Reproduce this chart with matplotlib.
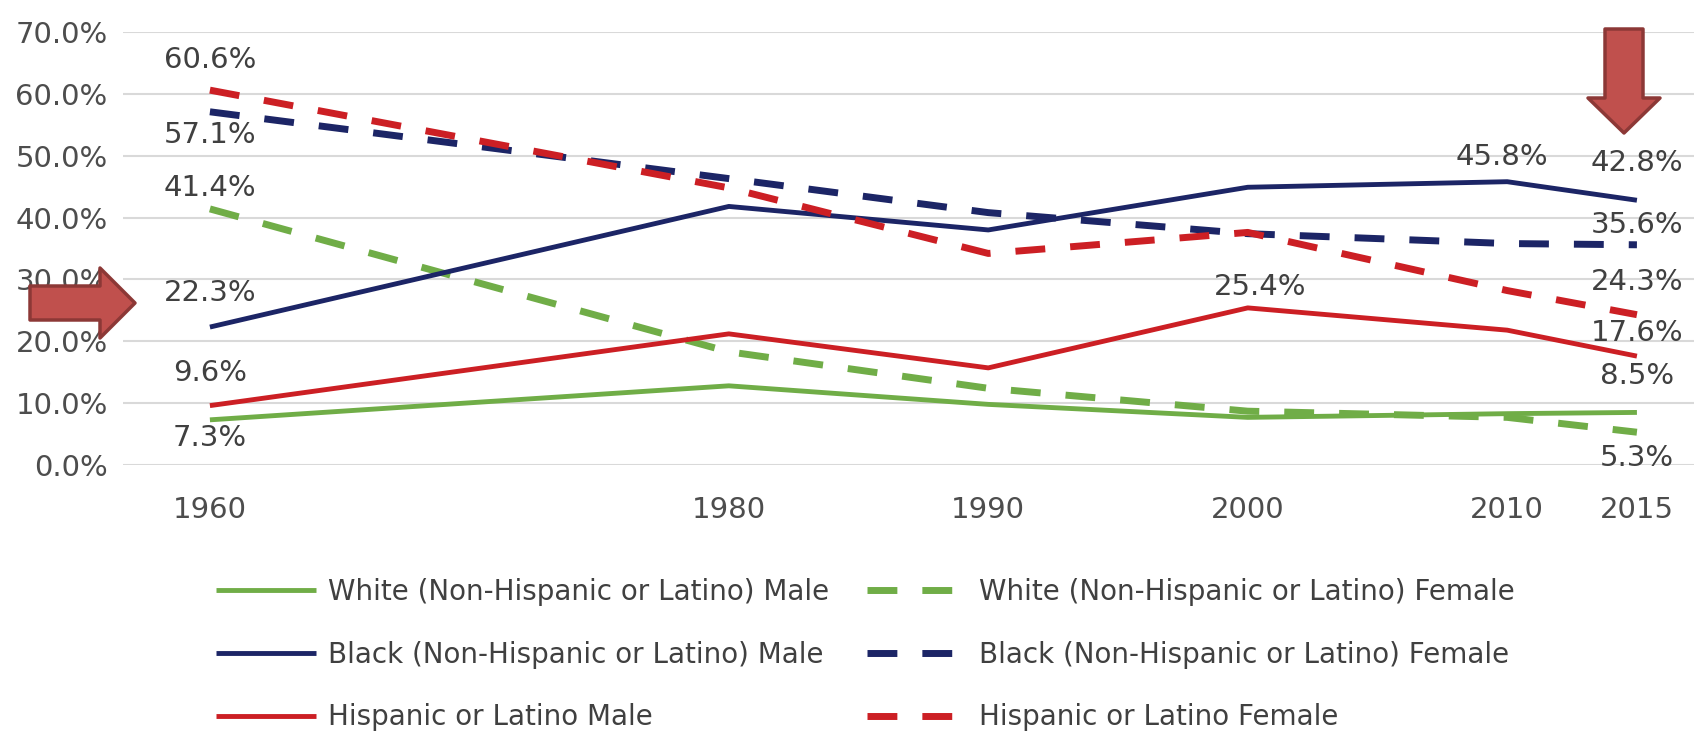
import numpy as np
import matplotlib.pyplot as plt
from matplotlib.patches import Polygon

# share of each group, in percent
years = [1960, 1980, 1990, 2000, 2010, 2015]
white_male = [7.3, 12.8, 9.8, 7.7, 8.3, 8.5]
white_female = [41.4, 18.3, 12.4, 8.7, 7.7, 5.3]
black_male = [22.3, 41.8, 38.0, 44.9, 45.8, 42.8]
black_female = [57.1, 46.3, 40.8, 37.4, 35.8, 35.6]
hisp_male = [9.6, 21.2, 15.7, 25.4, 21.8, 17.6]
hisp_female = [60.6, 44.8, 34.2, 37.6, 28.2, 24.3]

labels = ['White (Non-Hispanic or Latino) Male', 'White (Non-Hispanic or Latino) Female',
          'Black (Non-Hispanic or Latino) Male', 'Black (Non-Hispanic or Latino) Female',
          'Hispanic or Latino Male', 'Hispanic or Latino Female']

GREEN = '#70ad47'
NAVY = '#1c2566'
RED = '#cc1f24'

W, H = 1694, 737
fig = plt.figure(figsize=(W / 100, H / 100), dpi=100)
ax = fig.add_axes([123 / W, 1 - 465 / H, 1 - 123 / W, (465 - 32) / H])

dash = (0, (4.3, 3.6))
series = [
    (white_male, GREEN, '-', 3.5),
    (white_female, GREEN, dash, 5),
    (black_male, NAVY, '-', 3.5),
    (black_female, NAVY, dash, 5),
    (hisp_male, RED, '-', 3.5),
    (hisp_female, RED, dash, 5),
]
lines = []
for (vals, col, ls, lw), lab in zip(series, labels):
    ln, = ax.plot(years, vals, color=col, linestyle=ls, linewidth=lw,
                  label=lab, dash_capstyle='butt', solid_capstyle='butt')
    lines.append(ln)

# data labels: (series index, year index, x offset pt, y offset pt)
label_spots = [
    (5, 0, 0, 21.6), (3, 0, 0, -16.6), (1, 0, 0, 15.1),
    (2, 0, 0, 24.5), (4, 0, 0, 23.8), (0, 0, 0, -13),
    (2, 4, -3.6, 18), (4, 3, 8.6, 15.1),
    (2, 5, 0, 26.6), (3, 5, 0, 14.4), (5, 5, 0, 23.8),
    (4, 5, 0, 16.6), (0, 5, 0, 26), (1, 5, 0, -18.7),
]
for si, yi, dx, dy in label_spots:
    v = series[si][0][yi]
    ax.annotate(f'{v:.1f}%', (years[yi], v), xytext=(dx, dy), textcoords='offset points',
                ha='center', va='center', fontsize=21, color='#404040')

ax.set_xlim(1956.65, 2017.2)
ax.set_ylim(0, 70)
ax.set_xticks(years)
ax.set_yticks(np.arange(0, 71, 10))
ax.yaxis.set_major_formatter(lambda v, p: f'{v:.1f}%')
ax.tick_params(axis='both', length=0, labelsize=21, labelcolor='#4d4d4d')
ax.tick_params(axis='x', pad=22)
ax.tick_params(axis='y', pad=11)
ax.grid(axis='y', color='#d9d9d9', linewidth=1.5)
ax.set_axisbelow(True)
for sp in ax.spines.values():
    sp.set_visible(False)

order = [0, 2, 4, 1, 3, 5]
fig.legend([lines[i] for i in order], [labels[i] for i in order], ncol=2,
           loc='upper left', bbox_to_anchor=(216 / W, 1 - 578 / H), frameon=False,
           fontsize=20, labelcolor='#404040', handlelength=3.6, handletextpad=0.43,
           columnspacing=1.37, labelspacing=1.25, borderpad=0, borderaxespad=0)

# red call-out arrows, pixel geometry measured from the top-left corner
def px(points):
    return [(x / W, 1 - y / H) for x, y in points]

right_arrow = px([(30, 286), (100, 286), (100, 268), (135, 303),
                  (100, 338), (100, 320), (30, 320)])
down_arrow = px([(1605, 29), (1643, 29), (1643, 98), (1660, 98), (1624, 133),
                 (1588, 98), (1605, 98)])
for pts in (right_arrow, down_arrow):
    fig.patches.append(Polygon(pts, closed=True, transform=fig.transFigure,
                               facecolor='#c0504d', edgecolor='#8c3836',
                               linewidth=2.5, joinstyle='round', zorder=10))

fig.savefig('out.png', dpi=100)
